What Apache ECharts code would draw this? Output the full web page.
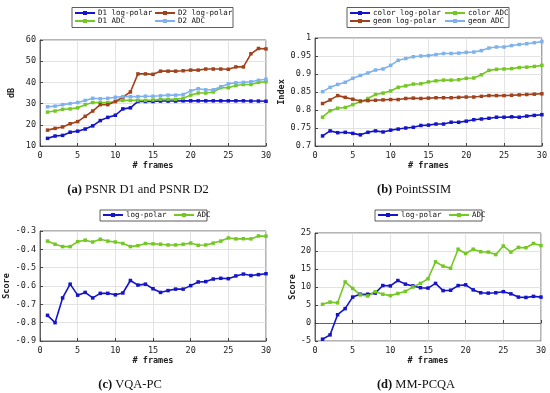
<!DOCTYPE html>
<html><head><meta charset="utf-8">
<script src="https://cdn.jsdelivr.net/npm/echarts@6/dist/echarts.min.js"></script>
<style>html,body{margin:0;padding:0;background:#fff}#c{width:550px;height:393px}</style>
</head><body><div id="c"></div>
<script>
const frames = Array.from({length:30},(_,i)=>i+1);
const xTicks = [0,5,10,15,20,25,30];

// (a) PSNR (dB)
const d1LogPolar = [13.6,14.7,15,16.5,17,18,19.5,22,23.5,24.5,27.5,28,31,31,31,31.2,31.2,31.2,31.3,31.3,31.3,31.3,31.3,31.3,31.3,31.3,31.3,31.2,31.2,31.1];
const d1ADC = [26,26.5,27.3,27.5,28,29.5,30.5,30.5,30.5,31,31.5,31.5,31.5,31.5,31.7,32,32,32,32.5,34,35,35,35.5,37.5,37.5,38.5,39,39,40,40.3];
const d2LogPolar = [17.5,18.3,19,20.5,21.5,24,26.5,29.5,29.5,31,33,35.5,44,44,43.8,45.3,45.3,45.3,45.5,45.8,45.8,46.3,46.3,46.3,46.2,47.3,47.3,53.5,56,55.8];
const d2ADC = [28.5,28.8,29.5,30,30.5,31.5,32.5,32.3,32.5,33,33.3,33.3,33.3,33.5,33.5,33.7,34,34,34.3,36,37,36.5,36.5,38,39.3,39.8,40,40.3,41,41.5];

// (b) PointSSIM
const colorLogPolar = [0.728,0.742,0.737,0.738,0.735,0.731,0.738,0.742,0.739,0.744,0.747,0.75,0.752,0.757,0.758,0.761,0.761,0.766,0.766,0.769,0.773,0.775,0.777,0.78,0.78,0.781,0.78,0.783,0.785,0.787];
const colorADC = [0.78,0.798,0.805,0.807,0.815,0.823,0.832,0.843,0.847,0.853,0.863,0.867,0.872,0.873,0.878,0.881,0.883,0.883,0.884,0.888,0.889,0.898,0.91,0.913,0.914,0.915,0.918,0.919,0.921,0.924];
const geomLogPolar = [0.818,0.828,0.84,0.835,0.83,0.825,0.826,0.827,0.828,0.829,0.829,0.832,0.833,0.832,0.833,0.834,0.834,0.834,0.835,0.836,0.836,0.838,0.84,0.84,0.84,0.841,0.842,0.843,0.844,0.845];
const geomADC = [0.851,0.863,0.871,0.877,0.888,0.896,0.903,0.911,0.914,0.924,0.938,0.943,0.948,0.95,0.951,0.954,0.957,0.957,0.958,0.96,0.961,0.965,0.972,0.975,0.975,0.979,0.982,0.984,0.987,0.99];

// (c) VQA-PC
const vqaLogPolar = [-0.76,-0.8,-0.665,-0.59,-0.65,-0.635,-0.665,-0.64,-0.64,-0.648,-0.638,-0.57,-0.595,-0.59,-0.615,-0.635,-0.625,-0.617,-0.617,-0.598,-0.578,-0.576,-0.562,-0.558,-0.56,-0.545,-0.535,-0.543,-0.538,-0.533];
const vqaADC = [-0.355,-0.372,-0.385,-0.385,-0.358,-0.35,-0.36,-0.345,-0.355,-0.36,-0.368,-0.385,-0.38,-0.368,-0.37,-0.372,-0.376,-0.376,-0.372,-0.366,-0.378,-0.376,-0.366,-0.355,-0.338,-0.343,-0.342,-0.343,-0.327,-0.328];

// (d) MM-PCQA
const mmLogPolar = [-4.5,-3.3,2.3,4,7.2,8,8,8.3,10.4,10.3,11.8,10.8,10.3,9.8,9.7,11,9,9.1,10.4,10.6,9.2,8.4,8.3,8.4,8.7,8.1,7.2,7.1,7.4,7.2];
const mmADC = [5.2,5.8,5.6,11.4,9.6,7.8,7.5,8.7,8,7.6,8.2,8.8,10,11,12.3,17,15.8,15.2,20.5,19.3,20.5,19.8,19.7,19,21.4,19.7,21,20.9,22.1,21.5];

const captions = [['(a)',' PSNR D1 and PSNR D2'],['(b)',' PointSSIM'],['(c)',' VQA-PC'],['(d)',' MM-PCQA']];
const yNames = ['dB','Index','Score','Score'];
const xName = '# frames';

const BLUE='#1414c8', GREEN='#74c824', BROWN='#a0421c', LBLUE='#7eb2ee';
const MONO = '"DejaVu Sans Mono", monospace';
const SERIF = '"Liberation Serif", serif';

const grids = [
  {left:40, top:40, width:226, height:106},
  {left:315, top:38, width:227, height:108},
  {left:40, top:231, width:226, height:110},
  {left:315, top:233, width:226, height:108}
];
const yCfg = [
  {min:10,max:60,interval:10,gap:24},
  {min:0.7,max:1,interval:0.05,gap:27},
  {min:-0.9,max:-0.3,interval:0.1,gap:27},
  {min:-5,max:25,interval:5,gap:16}
];

const option = {
  animation:false,
  backgroundColor:'#fff',
  grid: grids.map(g=>Object.assign({show:true,borderColor:'#444',borderWidth:0.8,backgroundColor:'transparent'},g)),
  xAxis: grids.map((g,i)=>({
    type:'value', gridIndex:i, min:0, max:30, interval:5,
    name:xName, nameLocation:'middle', nameGap:14,
    nameTextStyle:{fontFamily:MONO,fontSize:8.5,color:'#222',fontWeight:'bold'},
    axisLine:{show:true,lineStyle:{color:'#444',width:0.8}},
    axisTick:{show:true,inside:true,length:3,lineStyle:{color:'#444'}},
    axisLabel:{fontFamily:MONO,fontSize:8.5,color:'#222',margin:5},
    splitLine:{show:true,lineStyle:{color:'#dcdcdc',width:0.8}}
  })),
  yAxis: grids.map((g,i)=>({
    type:'value', gridIndex:i, min:yCfg[i].min, max:yCfg[i].max, interval:yCfg[i].interval,
    name:yNames[i], nameLocation:'middle', nameGap:yCfg[i].gap, nameRotate:90,
    nameTextStyle:{fontFamily:MONO,fontSize:8.5,color:'#222',fontWeight:'bold'},
    axisLine:{show:true,lineStyle:{color:'#444',width:0.8}},
    axisTick:{show:true,inside:true,length:3,lineStyle:{color:'#444'}},
    axisLabel:{fontFamily:MONO,fontSize:8.5,color:'#222',margin:4},
    splitLine:{show:true,lineStyle:{color:'#dcdcdc',width:0.8}}
  })),
  title: captions.map((c,i)=>({
    text:'{b|'+c[0]+'}{n|'+c[1]+'}',
    left:[138,414,130,416][i], top:[183,183,378,378][i], textAlign:'center', padding:0,
    textStyle:{fontWeight:'normal',fontFamily:SERIF,fontSize:12.5,lineHeight:14,rich:{
      b:{fontFamily:SERIF,fontSize:12.5,fontWeight:'bold',color:'#111',lineHeight:14},
      n:{fontFamily:SERIF,fontSize:12.5,fontWeight:'normal',color:'#111',lineHeight:14}
    }}
  })),
  legend: [
    {left:74,top:9,names:['D1 log-polar','D1 ADC']},
    {left:154,top:9,names:['D2 log-polar','D2 ADC']},
    {left:349,top:9,names:['color log-polar','geom log-polar']},
    {left:444,top:9,names:['color ADC','geom ADC']},
    {left:102,top:211,names:['log-polar']},
    {left:173,top:211,names:['ADC']},
    {left:377,top:211,names:['log-polar ']},
    {left:448,top:211,names:['ADC ']}
  ].map(l=>({
    left:l.left, top:l.top, orient:'vertical', data:l.names, itemGap:0,
    itemWidth:20, itemHeight:5, padding:0,
    textStyle:{fontFamily:MONO,fontSize:7.5,color:'#111',padding:[0,0,0,-2]}
  })),
  graphic: [
    {type:'rect',shape:{x:72,y:7.5,width:161,height:20},style:{fill:'none',stroke:'#333',lineWidth:0.8}},
    {type:'rect',shape:{x:347,y:7.5,width:162,height:20},style:{fill:'none',stroke:'#333',lineWidth:0.8}},
    {type:'rect',shape:{x:100,y:210,width:107,height:11},style:{fill:'none',stroke:'#333',lineWidth:0.8}},
    {type:'rect',shape:{x:375,y:210,width:107,height:11},style:{fill:'none',stroke:'#333',lineWidth:0.8}}
  ],
  series: []
};

function addSeries(name, data, color, gi){
  option.series.push({
    type:'line', name, xAxisIndex:gi, yAxisIndex:gi,
    data: frames.map((f,k)=>[f,data[k]]),
    symbol:'rect', symbolSize:3.5, showSymbol:true,
    lineStyle:{color,width:1.6}, itemStyle:{color}
  });
}
addSeries('D1 log-polar', d1LogPolar, BLUE, 0);
addSeries('D1 ADC', d1ADC, GREEN, 0);
addSeries('D2 log-polar', d2LogPolar, BROWN, 0);
addSeries('D2 ADC', d2ADC, LBLUE, 0);
addSeries('color log-polar', colorLogPolar, BLUE, 1);
addSeries('color ADC', colorADC, GREEN, 1);
addSeries('geom log-polar', geomLogPolar, BROWN, 1);
addSeries('geom ADC', geomADC, LBLUE, 1);
addSeries('log-polar', vqaLogPolar, BLUE, 2);
addSeries('ADC', vqaADC, GREEN, 2);
addSeries('log-polar ', mmLogPolar, BLUE, 3);
addSeries('ADC ', mmADC, GREEN, 3);

const chart = echarts.init(document.getElementById('c'), null, {renderer:'canvas'});
chart.setOption(option);
</script>
</body></html>
